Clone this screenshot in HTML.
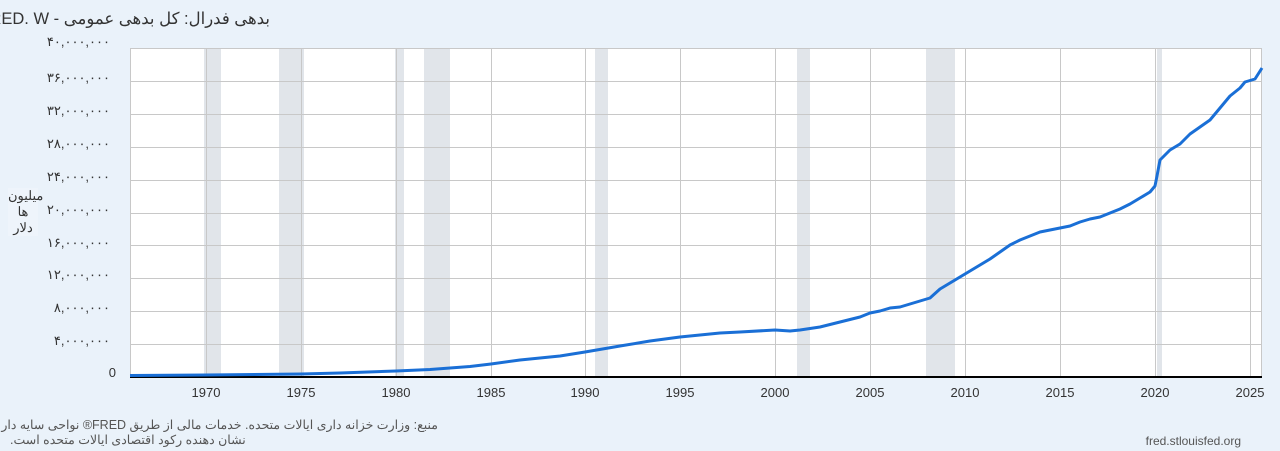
<!DOCTYPE html>
<html><head><meta charset="utf-8"><style>
body{margin:0;width:1280px;height:451px;background:#eaf2fa;overflow:hidden;position:relative;font-family:"Liberation Sans","Noto Sans CJK SC",sans-serif;}
.t{position:absolute;white-space:nowrap;}
</style></head><body>
<div class="t" style="left:0;top:9px;width:270px;overflow:hidden;font-size:16.5px;color:#333;direction:rtl;text-align:right;">بدهی فدرال: کل بدهی عمومی - FRED. W</div>
<div class="t" style="left:8px;top:188px;width:30px;font-size:13px;color:#333;text-align:center;line-height:16px;background:#eef4fb;">میلیون<br>ها<br>دلار</div>
<svg width="1280" height="451" style="position:absolute;left:0;top:0" font-family="Liberation Sans, Noto Sans CJK SC, sans-serif">
<rect x="130" y="48" width="1132" height="329" fill="#fff"/>
<g fill="#e1e5ea">
<rect x="204" y="48" width="17" height="329"/><rect x="279" y="48" width="25" height="329"/>
<rect x="395" y="48" width="9" height="329"/><rect x="424" y="48" width="26" height="329"/>
<rect x="595" y="48" width="13" height="329"/><rect x="797" y="48" width="13" height="329"/>
<rect x="926" y="48" width="29" height="329"/><rect x="1157" y="48" width="5" height="329"/>
</g>
<g stroke="#c8c8c8" stroke-width="1">
<line x1="130" x2="1262" y1="48.5" y2="48.5"/><line x1="130" x2="1262" y1="81.5" y2="81.5"/>
<line x1="130" x2="1262" y1="114.5" y2="114.5"/><line x1="130" x2="1262" y1="147.5" y2="147.5"/>
<line x1="130" x2="1262" y1="180.5" y2="180.5"/><line x1="130" x2="1262" y1="213.5" y2="213.5"/>
<line x1="130" x2="1262" y1="245.5" y2="245.5"/><line x1="130" x2="1262" y1="278.5" y2="278.5"/>
<line x1="130" x2="1262" y1="311.5" y2="311.5"/><line x1="130" x2="1262" y1="344.5" y2="344.5"/>
<line x1="130.5" x2="130.5" y1="48" y2="377"/><line x1="1261.5" x2="1261.5" y1="48" y2="377"/>
<line x1="206.5" x2="206.5" y1="48" y2="377"/><line x1="301.5" x2="301.5" y1="48" y2="377"/>
<line x1="396.5" x2="396.5" y1="48" y2="377"/><line x1="491.5" x2="491.5" y1="48" y2="377"/>
<line x1="585.5" x2="585.5" y1="48" y2="377"/><line x1="680.5" x2="680.5" y1="48" y2="377"/>
<line x1="775.5" x2="775.5" y1="48" y2="377"/><line x1="870.5" x2="870.5" y1="48" y2="377"/>
<line x1="965.5" x2="965.5" y1="48" y2="377"/><line x1="1060.5" x2="1060.5" y1="48" y2="377"/>
<line x1="1155.5" x2="1155.5" y1="48" y2="377"/><line x1="1250.5" x2="1250.5" y1="48" y2="377"/>
</g>
<line x1="130" x2="1262" y1="377" y2="377" stroke="#000" stroke-width="2"/>
<polyline fill="none" stroke="#1a6fd6" stroke-width="3" stroke-linejoin="round" points="130,375.5 206,375 301,374 340,373 396,371 430,369.5 450,368 470,366.5 491,364 520,360 560,356 585,352 620,346 650,341 680,337 700,335 720,333 740,332 775,330 790,331 800,330 820,327 840,322 860,317 870,313 880,311 890,308 900,307 910,304 920,301 930,298 940,289 955,280 965,274 980,265 990,259 1000,252 1010,245 1020,240 1030,236 1040,232 1050,230 1060,228 1070,226 1080,222 1090,219 1100,217 1110,213 1120,209 1130,204 1140,198 1150,192 1155,186 1157,176 1160,160 1170,150 1180,144 1190,134 1200,127 1210,120 1220,108 1230,96 1240,88 1245,82 1255,79 1262,68"/>
<g font-size="13" fill="#333" text-anchor="end">
<text x="110" y="46">۴۰,۰۰۰,۰۰۰</text><text x="110" y="82">۳۶,۰۰۰,۰۰۰</text>
<text x="110" y="115">۳۲,۰۰۰,۰۰۰</text><text x="110" y="148">۲۸,۰۰۰,۰۰۰</text>
<text x="110" y="181">۲۴,۰۰۰,۰۰۰</text><text x="110" y="214">۲۰,۰۰۰,۰۰۰</text>
<text x="110" y="247">۱۶,۰۰۰,۰۰۰</text><text x="110" y="279">۱۲,۰۰۰,۰۰۰</text>
<text x="110" y="312">۸,۰۰۰,۰۰۰</text><text x="110" y="345">۴,۰۰۰,۰۰۰</text>
<text x="116" y="377">0</text>
</g>
<g font-size="13" fill="#333" text-anchor="middle">
<text x="206" y="397">1970</text><text x="301" y="397">1975</text><text x="396" y="397">1980</text>
<text x="491" y="397">1985</text><text x="585" y="397">1990</text><text x="680" y="397">1995</text>
<text x="775" y="397">2000</text><text x="870" y="397">2005</text><text x="965" y="397">2010</text>
<text x="1060" y="397">2015</text><text x="1155" y="397">2020</text><text x="1250" y="397">2025</text>
</g>
<text x="1241" y="445" font-size="12" fill="#555" text-anchor="end">fred.stlouisfed.org</text>
</svg>
<div class="t" style="left:10px;top:418px;width:428px;font-size:12.5px;color:#555;direction:rtl;text-align:left;line-height:15px;">منبع: وزارت خزانه داری ایالات متحده. خدمات مالی از طریق FRED® نواحی سایه دار<br>نشان دهنده رکود اقتصادی ایالات متحده است.</div>
</body></html>
